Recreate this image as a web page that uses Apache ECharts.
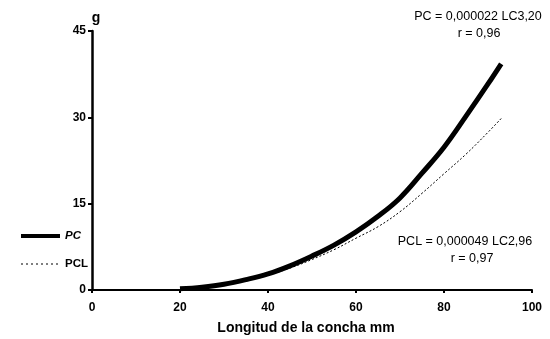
<!DOCTYPE html>
<html>
<head>
<meta charset="utf-8">
<script src="https://cdn.jsdelivr.net/npm/echarts@6/dist/echarts.min.js"></script>
<style>
  html, body { margin: 0; padding: 0; background: #fff; }
  #chart { width: 550px; height: 339px; }
</style>
</head>
<body>
<div id="chart"></div>
<script>
// longitud de la concha (mm)
var longitud = [20, 25, 30, 35, 40, 45, 50, 55, 60, 65, 70, 75, 80, 85, 90, 93];
// peso (g)
var pesoPC = [0.2, 0.5, 1.0, 1.8, 2.8, 4.2, 5.9, 7.8, 10.1, 12.8, 16.0, 20.3, 24.8, 30.2, 35.8, 39.3];
var pesoPCL = [0.2, 0.5, 1.0, 1.7, 2.6, 3.8, 5.3, 7.0, 9.0, 11.0, 13.6, 16.8, 20.2, 23.6, 27.4, 29.8];
var ecuacionPC = ["PC = 0,000022 LC3,20", "r = 0,96"];
var ecuacionPCL = ["PCL = 0,000049 LC2,96", "r = 0,97"];

function pares(xs, ys) {
  return xs.map(function (x, i) { return [x, ys[i]]; });
}

function texto(t, x, y) {
  return {
    type: "text", x: x, y: y,
    style: { text: t, font: "12.5px Liberation Sans", fill: "#000", textAlign: "center", textVerticalAlign: "middle" }
  };
}

var myChart = echarts.init(document.getElementById("chart"));
var fuente = "Liberation Sans";
var option = {
  animation: false,
  textStyle: { fontFamily: fuente },
  grid: { left: 92, right: 18, top: 31, bottom: 49, outerBoundsMode: "none" },
  legend: {
    orient: "vertical",
    left: 14,
    top: 225,
    itemWidth: 39,
    itemHeight: 8,
    itemGap: 16,
    itemStyle: { opacity: 0 },
    textStyle: { color: "#000", fontWeight: "bold", fontSize: 11.5, fontFamily: fuente },
    data: [
      { name: "PC", textStyle: { fontStyle: "italic" }, lineStyle: { width: 4 } },
      { name: "PCL", lineStyle: { width: 1.2, type: [2, 3] } }
    ]
  },
  xAxis: {
    type: "value",
    min: 0,
    max: 100,
    interval: 20,
    name: "Longitud de la concha mm",
    nameLocation: "middle",
    nameGap: 31,
    nameTextStyle: { color: "#000", fontWeight: "bold", fontSize: 14, padding: [0, 12, 0, 0] },
    axisLine: { lineStyle: { color: "#000", width: 2 } },
    axisTick: { show: true, length: 3, lineStyle: { color: "#000", width: 2 } },
    axisLabel: { color: "#000", fontWeight: "bold", fontSize: 12, margin: 12 },
    splitLine: { show: false }
  },
  yAxis: {
    type: "value",
    min: 0,
    max: 45,
    interval: 15,
    name: "g",
    nameGap: 3,
    nameTextStyle: { color: "#000", fontWeight: "bold", fontSize: 14, padding: [0, 0, 0, 8] },
    axisLine: { show: true, lineStyle: { color: "#000", width: 2.5 } },
    axisTick: { show: true, length: 4, lineStyle: { color: "#000", width: 2 } },
    axisLabel: { color: "#000", fontWeight: "bold", fontSize: 12, margin: 6 },
    splitLine: { show: false }
  },
  graphic: [
    texto(ecuacionPC[0], 478, 17),
    texto(ecuacionPC[1], 479, 34),
    texto(ecuacionPCL[0], 465, 242),
    texto(ecuacionPCL[1], 472, 259)
  ],
  series: [
    {
      name: "PC",
      type: "line",
      smooth: 0.4,
      symbol: "none",
      data: pares(longitud, pesoPC),
      lineStyle: { color: "#000", width: 5 },
      itemStyle: { color: "#000" },
      z: 3
    },
    {
      name: "PCL",
      type: "line",
      smooth: 0.4,
      symbol: "none",
      data: pares(longitud, pesoPCL),
      lineStyle: { color: "#000", width: 1, type: [2, 2] },
      itemStyle: { color: "#000" },
      z: 2
    }
  ]
};
myChart.setOption(option);
</script>
</body>
</html>
